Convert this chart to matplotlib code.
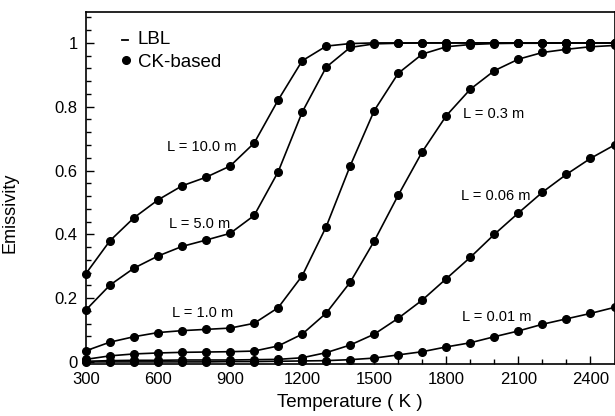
import matplotlib
matplotlib.use("Agg")
import matplotlib.pyplot as plt
from matplotlib.ticker import MultipleLocator, FuncFormatter

plt.rcParams['font.family'] = ['Liberation Sans', 'DejaVu Sans']

temperature = [300, 400, 500, 600, 700, 800, 900, 1000, 1100, 1200, 1300, 1400,
               1500, 1600, 1700, 1800, 1900, 2000, 2100, 2200, 2300, 2400, 2500]

eps_L10 = [0.277, 0.380, 0.452, 0.508, 0.552, 0.579, 0.614, 0.686, 0.821, 0.944, 0.990, 0.998,
           1.0, 1.0, 1.0, 1.0, 1.0, 1.0, 1.0, 1.0, 1.0, 1.0, 1.0]
eps_L5 = [0.163, 0.241, 0.294, 0.332, 0.362, 0.382, 0.403, 0.459, 0.596, 0.783, 0.924, 0.986,
          0.997, 0.999, 1.0, 1.0, 1.0, 1.0, 1.0, 1.0, 1.0, 1.0, 1.0]
eps_L1 = [0.035, 0.062, 0.079, 0.092, 0.098, 0.102, 0.106, 0.121, 0.170, 0.270, 0.424, 0.615,
          0.788, 0.905, 0.965, 0.988, 0.995, 0.998, 0.999, 0.999, 1.0, 1.0, 1.0]
eps_L03 = [0.008, 0.019, 0.025, 0.028, 0.030, 0.031, 0.032, 0.034, 0.050, 0.087, 0.153, 0.250,
           0.379, 0.523, 0.659, 0.772, 0.855, 0.913, 0.949, 0.970, 0.980, 0.988, 0.992]
eps_L006 = [0.002, 0.004, 0.005, 0.005, 0.006, 0.006, 0.006, 0.007, 0.008, 0.013, 0.029, 0.053,
            0.087, 0.137, 0.194, 0.261, 0.328, 0.400, 0.467, 0.532, 0.588, 0.638, 0.680]
eps_L001 = [0.0, 0.0, 0.0, 0.0, 0.0, 0.0, 0.001, 0.001, 0.002, 0.003, 0.004, 0.007,
            0.012, 0.022, 0.032, 0.047, 0.060, 0.079, 0.097, 0.118, 0.135, 0.152, 0.171]

series = [eps_L10, eps_L5, eps_L1, eps_L03, eps_L006, eps_L001]
labels = ["L = 10.0 m", "L = 5.0 m", "L = 1.0 m", "L = 0.3 m", "L = 0.06 m", "L = 0.01 m"]
label_pos = [(781, 0.675), (774, 0.433), (786, 0.154), (1995, 0.777), (2005, 0.52), (2011, 0.141)]

fig = plt.figure(figsize=(6.15, 4.16), dpi=100)
ax = fig.add_axes([0.1398, 0.1262, 0.8594, 0.845])

for s in series:
    ax.plot(temperature, s, '-', color='black', lw=1.2, clip_on=False, zorder=2)
    ax.plot(temperature, s, 'o', color='black', ms=5.5, clip_on=False, zorder=3)

for lab, (x, y) in zip(labels, label_pos):
    ax.text(x, y, lab, fontsize=10.5, ha='center', va='center')

# legend
ax.plot([0.069, 0.080], [0.920, 0.920], '-', color='black', lw=1.3, transform=ax.transAxes)
ax.text(0.098, 0.921, "LBL", fontsize=13.5, ha='left', va='center', transform=ax.transAxes)
ax.plot([0.0756], [0.863], 'o', color='black', ms=5.5, transform=ax.transAxes)
ax.text(0.098, 0.857, "CK-based", fontsize=13.5, ha='left', va='center', transform=ax.transAxes)

ax.set_xlim(300, 2500)
ax.set_ylim(-0.005, 1.097)
ax.xaxis.set_major_locator(MultipleLocator(300))
ax.xaxis.set_minor_locator(MultipleLocator(100))
ax.yaxis.set_major_locator(MultipleLocator(0.2))
ax.yaxis.set_minor_locator(MultipleLocator(0.04))

def yfmt(v, pos):
    if abs(v) < 1e-9:
        return "0"
    if abs(v - 1) < 1e-9:
        return "1"
    return "%.1f" % v

ax.yaxis.set_major_formatter(FuncFormatter(yfmt))
ax.tick_params(which='both', direction='in', top=False, right=False, labelsize=12, width=1.0)
ax.tick_params(which='major', length=6, pad=6)
ax.tick_params(which='minor', length=3.5)

for sp in ax.spines.values():
    sp.set_linewidth(1.2)

ax.set_xlabel("Temperature ( K )", fontsize=13.5)
ax.set_ylabel("Emissivity", fontsize=13)
ax.yaxis.set_label_coords(-0.127, 0.43)
ax.xaxis.set_label_coords(0.5, -0.088)

fig.savefig("out.png", dpi=100)
